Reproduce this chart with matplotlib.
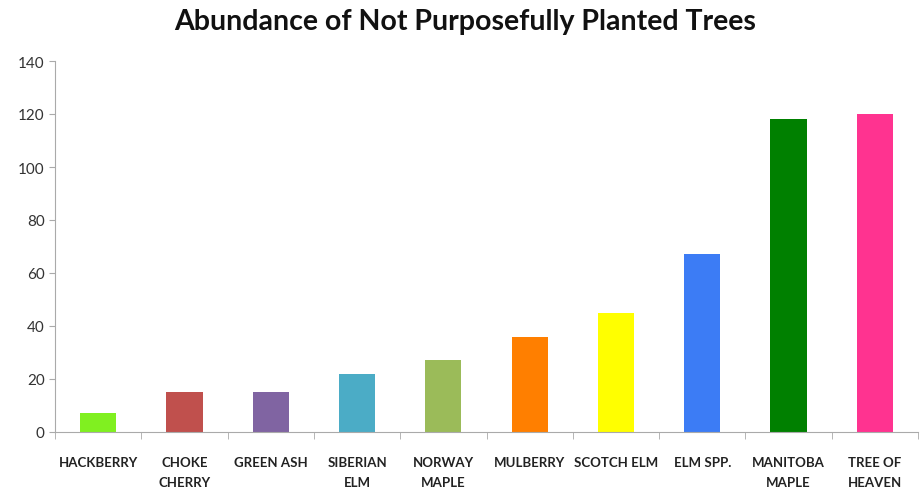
import matplotlib.pyplot as plt
import numpy as np

categories = ['HACKBERRY', 'CHOKE\nCHERRY', 'GREEN ASH', 'SIBERIAN\nELM', 'NORWAY\nMAPLE',
              'MULBERRY', 'SCOTCH ELM', 'ELM SPP.', 'MANITOBA\nMAPLE', 'TREE OF\nHEAVEN']
counts = [7, 15, 15, 22, 27, 36, 45, 67, 118, 120]
colors = ['#80f020', '#c0504d', '#8064a2', '#4bacc6', '#9bbb59',
          '#ff7f00', '#ffff00', '#3c7cf5', '#008000', '#ff3390']

plt.rcParams['font.family'] = ['Lato', 'DejaVu Sans']

fig = plt.figure(figsize=(9.22, 4.89), dpi=100)
ax = fig.add_axes([55 / 922, 1 - 433 / 489, 863 / 922, 371 / 489])

x = np.arange(len(categories))
ax.bar(x, counts, width=0.42, color=colors)

ax.set_xlim(-0.5, len(categories) - 0.5)
ax.set_ylim(0, 140)
ax.set_yticks(range(0, 141, 20))
ax.set_xticks(x)
ax.set_xticklabels(categories, fontsize=9.5, fontweight='bold', color='#222222', linespacing=1.8)
ax.tick_params(axis='x', length=0, pad=17)
ax.set_xticks(np.arange(-0.5, len(categories), 1), minor=True)
ax.tick_params(axis='x', which='minor', length=5, color='#aaaaaa', direction='out')
ax.tick_params(axis='y', labelsize=11, colors='#aaaaaa', labelcolor='#333333', length=4)

for s in ['top', 'right']:
    ax.spines[s].set_visible(False)
ax.spines['left'].set_color('#aaaaaa')
ax.spines['bottom'].set_color('#aaaaaa')

fig.suptitle('Abundance of Not Purposefully Planted Trees', x=465 / 922, y=1 - 9 / 489,
             va='top', fontsize=20.5, fontweight='bold', color='#111111')

fig.savefig('out.png', dpi=100)
